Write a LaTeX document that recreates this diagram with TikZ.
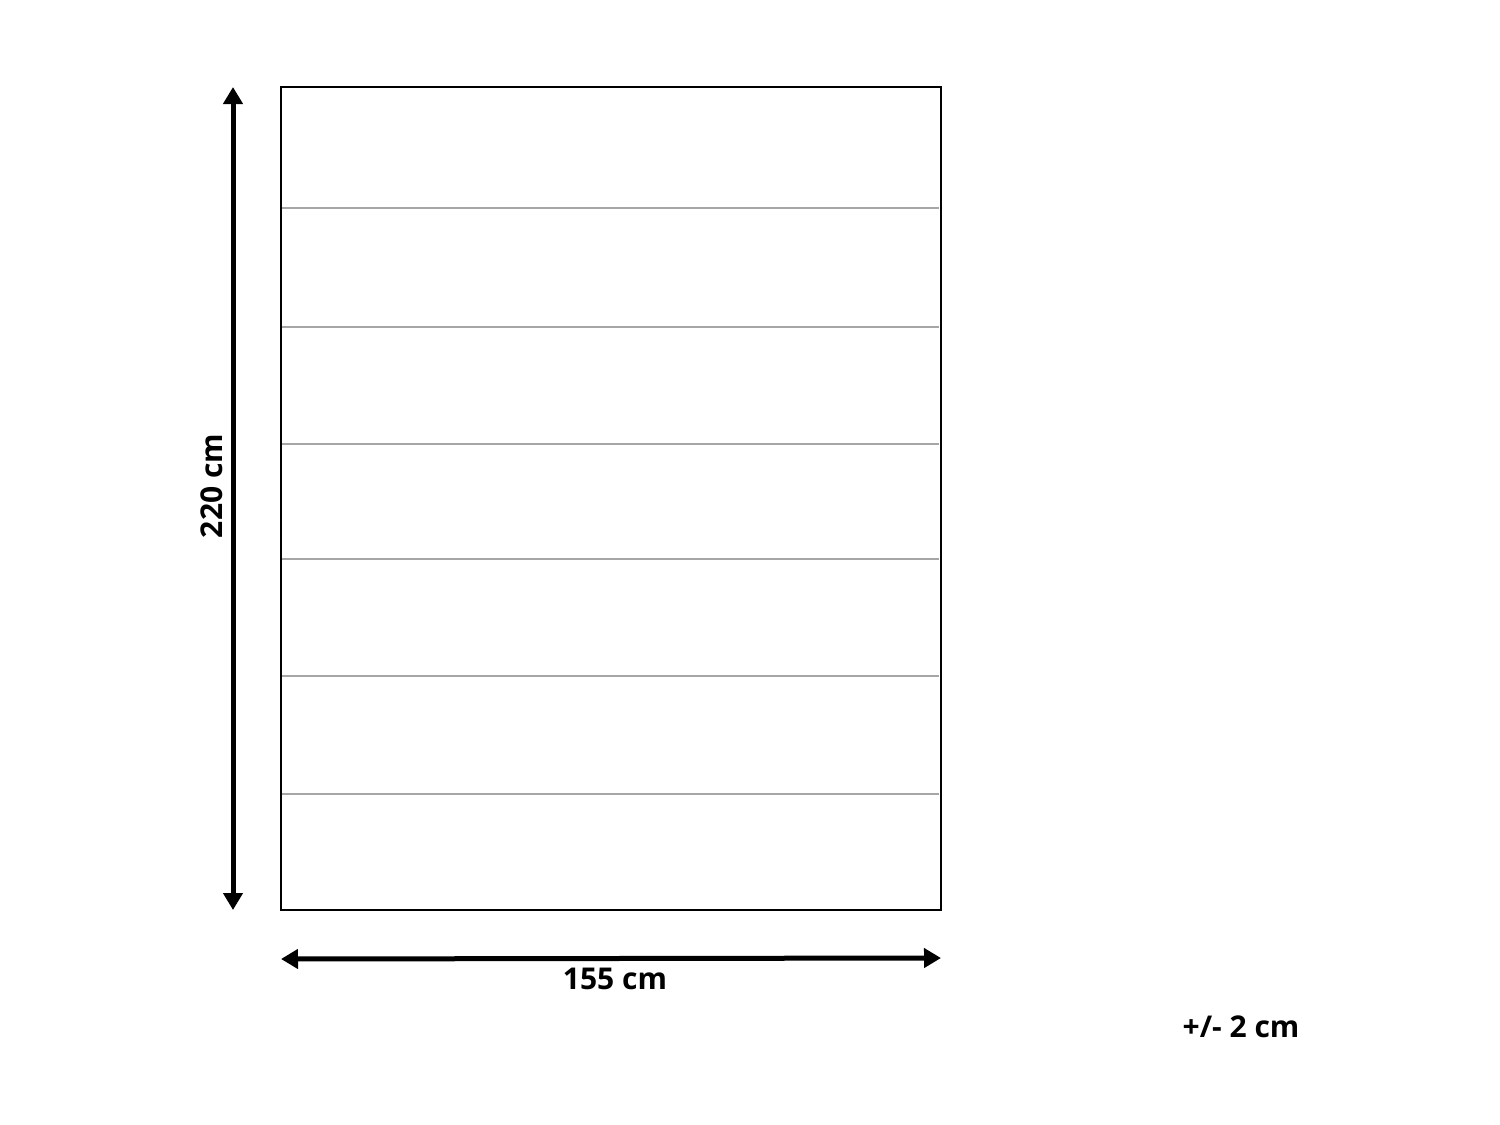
\documentclass[tikz,border=0pt]{standalone}
\usepackage{fontspec}
\setmainfont{Open Sans}
\usetikzlibrary{arrows.meta}
\begin{document}
\begin{tikzpicture}[x=1pt,y=-1pt,
  dimarrow/.style={line width=5pt,{Triangle[length=17pt,width=19pt]}-{Triangle[length=17pt,width=19pt]}},
  dimlabel/.style={font=\fontsize{30}{33}\selectfont\bfseries,inner sep=0pt},
  seam/.style={draw=black!35,line width=1.3pt}]
\useasboundingbox (0,0) rectangle (1500,1125);
\coordinate (tl) at (281,87);
\coordinate (br) at (941,910);
\draw[line width=2pt] (tl) rectangle (br);
\foreach \yy in {208,327,444,559,676,794}{
  \draw[seam] (282,\yy) -- (939,\yy);
}
\coordinate (vt) at (233,87);
\coordinate (vb) at (233,910);
\draw[dimarrow] (vt) -- (vb);
\coordinate (hl) at (281,959);
\coordinate (hr) at (941,958);
\draw[dimarrow] (hl) -- (hr);
\node[dimlabel,rotate=90] (h) at (212,486) {220 cm};
\node[dimlabel] (w) at (615,979) {155 cm};
\node[dimlabel] (tol) at (1241,1027) {+/- 2 cm};
\end{tikzpicture}
\end{document}
